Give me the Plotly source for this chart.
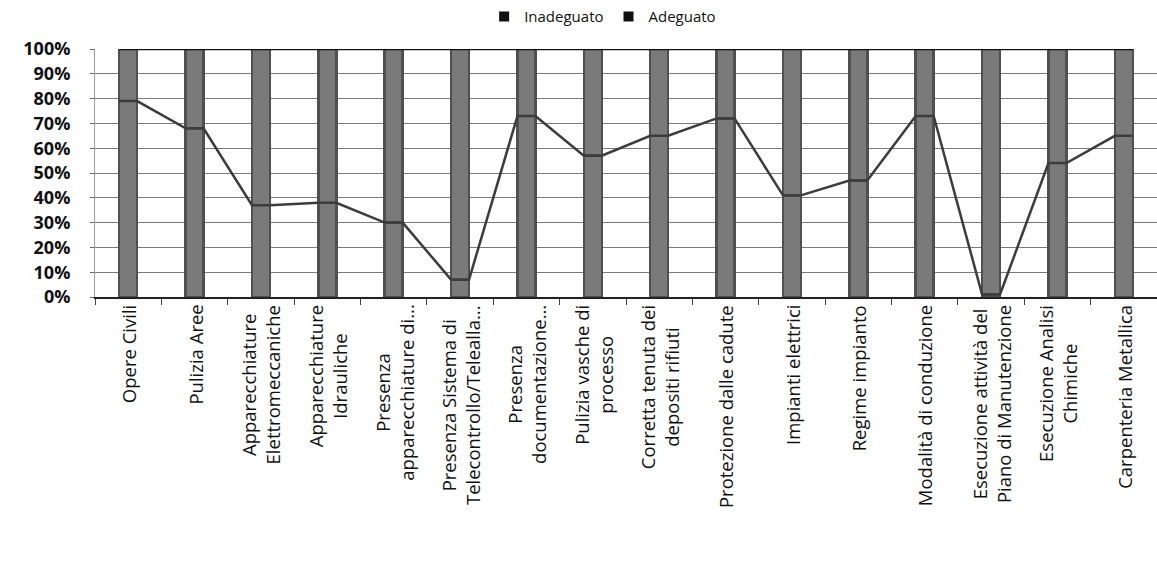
import plotly.graph_objects as go

# Categories (multi-line labels use <br>)
categories = [
    "Opere Civili",
    "Pulizia Aree",
    "Apparecchiature<br>Elettromeccaniche",
    "Apparecchiature<br>Idrauliche",
    "Presenza<br>apparecchiature di...",
    "Presenza Sistema di<br>Telecontrollo/Telealla...",
    "Presenza<br>documentazione...",
    "Pulizia vasche di<br>processo",
    "Corretta tenuta dei<br>depositi rifiuti",
    "Protezione dalle cadute",
    "Impianti elettrici",
    "Regime impianto",
    "Modalità di conduzione",
    "Esecuzione attività del<br>Piano di Manutenzione",
    "Esecuzione Analisi<br>Chimiche",
    "Carpenteria Metallica",
]

# Percentages per category
inadeguato = [79, 68, 37, 38, 30, 7, 73, 57, 65, 72, 41, 47, 73, 1, 54, 65]
adeguato = [21, 32, 63, 62, 70, 93, 27, 43, 35, 28, 59, 53, 27, 99, 46, 35]

y_ticks = [0, 10, 20, 30, 40, 50, 60, 70, 80, 90, 100]
y_tick_labels = ["0%", "10%", "20%", "30%", "40%", "50%",
                 "60%", "70%", "80%", "90%", "100%"]

BAR_W = 0.27
BAR_FILL = "#7a7a7a"
BAR_EDGE = "#505050"
FONT = "Open Sans"

xs = list(range(len(categories)))

fig = go.Figure()

# Stacked 100% columns
fig.add_trace(go.Bar(
    x=xs, y=inadeguato, width=BAR_W, name="Inadeguato", showlegend=False,
    marker=dict(color=BAR_FILL, line=dict(color=BAR_EDGE, width=2.5)),
))
fig.add_trace(go.Bar(
    x=xs, y=adeguato, width=BAR_W, name="Adeguato", showlegend=False,
    marker=dict(color=BAR_FILL, line=dict(color=BAR_EDGE, width=2.5)),
))


def series_line(tops):
    # connect the top of each segment from bar edge to bar edge
    lx, ly = [], []
    for i, v in zip(xs, tops):
        lx += [i - BAR_W / 2, i + BAR_W / 2]
        ly += [v, v]
    return lx, ly


lx, ly = series_line(inadeguato)
fig.add_trace(go.Scatter(x=lx, y=ly, mode="lines", showlegend=False,
                         line=dict(color="#3c3c3c", width=2.5), hoverinfo="skip"))

tops2 = [a + b for a, b in zip(inadeguato, adeguato)]
lx2, ly2 = series_line(tops2)
fig.add_trace(go.Scatter(x=lx2, y=ly2, mode="lines", showlegend=False,
                         line=dict(color="#111111", width=2.5), hoverinfo="skip"))

# Legend entries
for nm in ["Inadeguato", "Adeguato"]:
    fig.add_trace(go.Scatter(
        x=[None], y=[None], mode="markers", name=nm,
        marker=dict(symbol="square", size=10, color="#111111"),
    ))

# Category labels, rotated and centred line by line
for i, c in zip(xs, categories):
    fig.add_annotation(
        x=i, xref="x", y=0, yref="paper", yanchor="top", xanchor="center",
        yshift=-6, text=c, textangle=-90, showarrow=False, align="center",
        font=dict(family=FONT, size=18.5, color="#111111"),
    )

fig.update_layout(
    width=1157, height=576,
    margin=dict(l=95, r=0, t=47, b=279),
    paper_bgcolor="white", plot_bgcolor="white",
    barmode="stack",
    bargap=0.73,
    font=dict(family=FONT, color="#111111"),
    legend=dict(
        orientation="h", x=0.478, xanchor="center", y=1.13, yanchor="middle",
        traceorder="normal",
        font=dict(family=FONT, size=15, color="#111111"),
        itemwidth=30, bgcolor="rgba(0,0,0,0)",
    ),
    xaxis=dict(
        range=[-0.5, len(categories) - 0.5],
        tickvals=[i - 0.5 for i in range(len(categories) + 1)],
        showticklabels=False, ticks="outside", ticklen=6,
        tickcolor="#444444", showgrid=False, zeroline=False,
        showline=True, linecolor="#222222", linewidth=1.5,
    ),
    yaxis=dict(
        range=[0, 100], tickmode="array", tickvals=y_ticks,
        ticktext=y_tick_labels,
        ticks="outside", ticklen=4, tickcolor="#666666",
        ticklabelstandoff=16,
        showgrid=True, gridcolor="#7a7a7a", gridwidth=1,
        showline=True, linecolor="#9a9a9a", linewidth=1,
        zeroline=False,
        tickfont=dict(family=FONT, size=18, color="#111111", weight="bold"),
    ),
)

fig.write_html("out.html")
